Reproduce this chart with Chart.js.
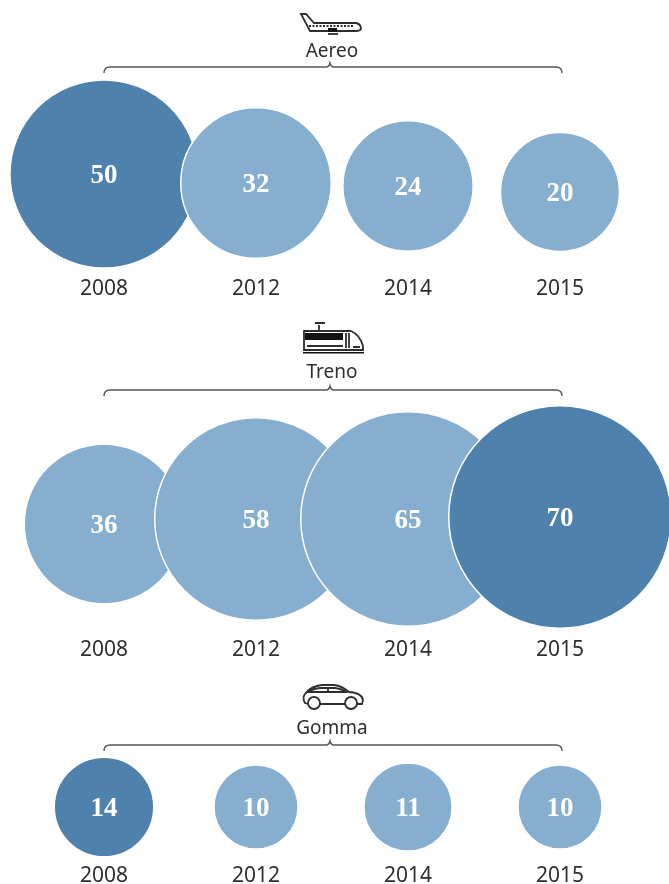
<!DOCTYPE html>
<html>
<head>
<meta charset="utf-8">
<title>Aereo, Treno, Gomma</title>
<script src="https://cdn.jsdelivr.net/npm/chart.js@4/dist/chart.umd.min.js"></script>
<style>
    html, body { margin: 0; padding: 0; background: #fff; overflow: hidden; }
    canvas { display: block; }
</style>
</head>
<body>
<canvas id="aereo" width="669" height="310"></canvas>
<canvas id="treno" width="669" height="360"></canvas>
<canvas id="gomma" width="669" height="214"></canvas>
<script>
const years = ['2008', '2012', '2014', '2015'];
const aereoValues = [50, 32, 24, 20];
const trenoValues = [36, 58, 65, 70];
const gommaValues = [14, 10, 11, 10];

const DARK = '#4f81ad';
const LIGHT = '#85aecf';
const INK = '#2e2e2e';
const RADIUS_K = 13.3; // area proportional to the value

// the source nudges each circle up or down, no meaning in it: px above the year labels
const aereoLift = [96, 87, 84, 78];
const trenoLift = [106, 111, 111, 113];
const gommaLift = [50, 50, 50, 50];

// icons, drawn around the middle of the page
function drawPlane(ctx) {
    ctx.beginPath();
    ctx.moveTo(301, 14);
    ctx.lineTo(306, 14);
    ctx.lineTo(314, 23);
    ctx.lineTo(356, 23);
    ctx.quadraticCurveTo(361, 24, 361, 29);
    ctx.quadraticCurveTo(360, 31, 356, 31);
    ctx.lineTo(310, 31);
    ctx.closePath();
    ctx.stroke();
    ctx.beginPath();
    ctx.setLineDash([2, 1.5]);
    ctx.moveTo(309, 26);
    ctx.lineTo(354, 26);
    ctx.stroke();
    ctx.setLineDash([]);
    ctx.fillRect(328, 28, 9, 4);
    ctx.beginPath();
    ctx.moveTo(328, 34);
    ctx.lineTo(338, 34);
    ctx.stroke();
}

function drawTrain(ctx) {
    ctx.beginPath();
    ctx.moveTo(319, 330);
    ctx.lineTo(319, 325);
    ctx.moveTo(315, 323);
    ctx.lineTo(325, 323);
    ctx.stroke();
    ctx.beginPath();
    ctx.moveTo(304, 331);
    ctx.lineTo(351, 331);
    ctx.quadraticCurveTo(360, 335, 363, 346);
    ctx.lineTo(363, 350);
    ctx.lineTo(304, 350);
    ctx.closePath();
    ctx.stroke();
    ctx.fillRect(305, 333, 38, 7);
    ctx.beginPath();
    ctx.moveTo(346, 333);
    ctx.lineTo(346, 348);
    ctx.moveTo(349, 333);
    ctx.lineTo(349, 348);
    ctx.moveTo(307, 346);
    ctx.lineTo(343, 346);
    ctx.moveTo(353, 347);
    ctx.lineTo(360, 347);
    ctx.stroke();
    ctx.fillRect(303, 352, 61, 1.5);
}

function drawCar(ctx) {
    ctx.beginPath();
    ctx.moveTo(308, 704);
    ctx.lineTo(305, 703);
    ctx.quadraticCurveTo(302, 698, 305, 694);
    ctx.quadraticCurveTo(311, 686, 322, 685);
    ctx.lineTo(334, 685);
    ctx.quadraticCurveTo(342, 686, 349, 692);
    ctx.quadraticCurveTo(362, 693, 363, 700);
    ctx.lineTo(362, 704);
    ctx.lineTo(357, 704);
    ctx.moveTo(320, 704);
    ctx.lineTo(345, 704);
    ctx.stroke();
    ctx.beginPath();
    ctx.moveTo(308, 692);
    ctx.quadraticCurveTo(314, 688, 322, 688);
    ctx.lineTo(335, 688);
    ctx.quadraticCurveTo(342, 689, 346, 692);
    ctx.closePath();
    ctx.moveTo(328, 688);
    ctx.lineTo(328, 692);
    ctx.stroke();
    ctx.beginPath();
    ctx.arc(314, 703, 6, 0, Math.PI * 2);
    ctx.stroke();
    ctx.beginPath();
    ctx.arc(351, 703, 6, 0, Math.PI * 2);
    ctx.stroke();
}

// values inside the circles
const bubbleLabels = {
    id: 'bubbleLabels',
    afterDatasetsDraw(chart) {
        const ctx = chart.ctx;
        const values = chart.data.datasets[0].values;
        ctx.save();
        ctx.fillStyle = '#fff';
        ctx.font = 'bold 27px "Liberation Serif"';
        ctx.textAlign = 'center';
        ctx.textBaseline = 'middle';
        chart.getDatasetMeta(0).data.forEach((el, i) => {
            ctx.fillText(values[i], el.x, el.y + 2);
        });
        ctx.restore();
    }
};

// bracket under the title, plus the icon
const bracket = {
    id: 'bracket',
    afterDraw(chart, args, opts) {
        const ctx = chart.ctx;
        const x = chart.scales.x;
        const left = x.getPixelForValue(0);
        const right = x.getPixelForValue(years.length - 1) + 2;
        const mid = 330;
        const y = chart.chartArea.top - 3;
        ctx.save();
        ctx.strokeStyle = '#555';
        ctx.lineWidth = 1.4;
        ctx.beginPath();
        ctx.moveTo(left, y + 6);
        ctx.quadraticCurveTo(left, y, left + 6, y);
        ctx.lineTo(mid - 4, y);
        ctx.quadraticCurveTo(mid - 1, y, mid, y - 4);
        ctx.quadraticCurveTo(mid + 1, y, mid + 4, y);
        ctx.lineTo(right - 6, y);
        ctx.quadraticCurveTo(right, y, right, y + 6);
        ctx.stroke();
        // icon coordinates are page coordinates, so shift back by the canvas top
        ctx.translate(0, -chart.canvas.offsetTop);
        ctx.strokeStyle = INK;
        ctx.fillStyle = '#111';
        ctx.lineWidth = 1.8;
        opts.icon(ctx);
        ctx.restore();
    }
};

function makeRow(id, title, values, lift, icon, titleTop, titleBottom, axisHeight, areaHeight, tickPadding) {
    const ctx = document.getElementById(id).getContext('2d');
    const top = Math.max(...values);
    new Chart(ctx, {
        type: 'bubble',
        data: {
            labels: years,
            datasets: [{
                values: values,
                data: values.map((v, i) => ({ x: years[i], y: lift[i], r: RADIUS_K * Math.sqrt(v) })),
                backgroundColor: values.map(v => v === top ? DARK : LIGHT),
                borderColor: '#fff',
                borderWidth: 1.5,
                clip: false
            }]
        },
        options: {
            responsive: false,
            animation: false,
            layout: { autoPadding: false, padding: { left: 28, right: 33 } },
            scales: {
                x: {
                    type: 'category',
                    offset: true,
                    grid: { display: false },
                    border: { display: false },
                    ticks: {
                        color: INK,
                        padding: tickPadding,
                        maxRotation: 0,
                        autoSkip: false,
                        font: { family: '"Noto Sans"', size: 21 }
                    },
                    afterFit(scale) { scale.height = axisHeight; }
                },
                y: { display: false, min: 0, max: areaHeight }
            },
            plugins: {
                legend: { display: false },
                tooltip: { enabled: false },
                title: {
                    display: true,
                    text: title,
                    color: INK,
                    font: { family: '"Noto Sans"', size: 19, weight: 'normal' },
                    padding: { top: titleTop, bottom: titleBottom }
                },
                bracket: { icon: icon }
            }
        },
        plugins: [bubbleLabels, bracket]
    });
}

makeRow('aereo', 'Aereo', aereoValues, aereoLift, drawPlane, 40, 7.2, 40, 200, -2);
makeRow('treno', 'Treno', trenoValues, trenoLift, drawTrain, 51, 9.2, 40, 237, -1);
makeRow('gomma', 'Gomma', gommaValues, gommaLift, drawCar, 47, 8.2, 27, 109, -2);
</script>
</body>
</html>
